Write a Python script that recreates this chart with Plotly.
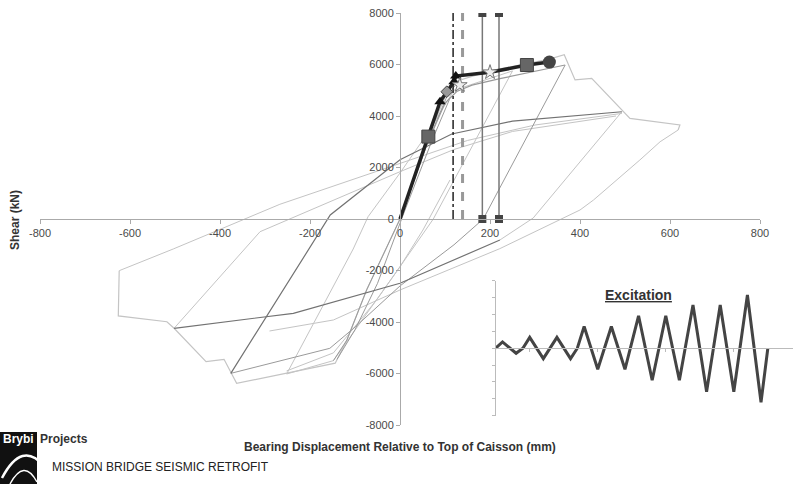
import plotly.graph_objects as go

# ---------------- data ----------------
x_ticks = [-800, -600, -400, -200, 0, 200, 400, 600, 800]
y_ticks = [-8000, -6000, -4000, -2000, 0, 2000, 4000, 6000, 8000]

# envelope (light grey)
env_x = [-624, -626, -518, -502, -431, -391, -363, -144, -118, -74, 0, 63, 104, 125, 200, 290, 330, 365, 389, 426, 496, 511, 622, 618]
env_y = [-2007, -3766, -3990, -4244, -5541, -5448, -6383, -5600, -4700, -2750, 0, 3200, 4900, 5350, 5750, 6050, 6200, 6380, 5400, 5463, 4166, 3910, 3650, 3456]

# 620 mm cycle reload / unload (light grey)
c620r_x = [-624, -504, -267, 0, 150, 300, 493]
c620r_y = [-2007, -1165, 571, 2163, 3050, 3650, 4100]
c620u_x = [618, 578, 533, 430, 400, 222, 0, -148, -290]
c620u_y = [3456, 3000, 2291, 738, 350, -1150, -2757, -3922, -4350]

# 500 mm cycle
c500r_x = [-376, -155, 0, 115, 250, 493]
c500r_y = [-5994, 155, 2300, 3300, 3800, 4166]
c500u_x = [493, 296, 222]
c500u_y = [4166, 39, -815]
c500n_x = [222, 0, -237, -502]
c500n_y = [-815, -2497, -3662, -4244]
c500b_x = [-502, -344, -311, 0, 120, 250, 480]
c500b_y = [-4244, -1126, -493, 1837, 2700, 3400, 4000]

# 375 mm cycle (medium grey)
c375p_x = [0, 60, 100, 126, 160, 222, 367]
c375p_y = [0, 2900, 4500, 4950, 5200, 5450, 5980]
c375u_x = [367, 185, 120, 0, -100, -156, -376]
c375u_y = [5980, 0, -1000, -2600, -4200, -5022, -5994]

# 250 mm cycle (light grey)
c250_x = [-252, -104, -71, 0, 60, 120, 250, 74, 0, -52, -148, -252]
c250_y = [-6019, -1165, 89, 1786, 3300, 5000, 5750, 0, -1852, -3145, -5500, -6019]

# small cycles near origin
small1_x = [-148, -118, -74, 0, 63, 104, 125]
small1_y = [-5500, -4700, -2750, 0, 3050, 4750, 5250]
small2_x = [-140, -100, -50, 10, 70, 110]
small2_y = [-5450, -4300, -2500, 300, 3000, 4650]
small3_x = [111, 51, 0, -52, -148, -252]
small3_y = [1514, -427, -1852, -3145, -5200, -5900]

# backbone (thick black) and its markers
bb_x = [0, 63, 89, 104, 120, 124, 200, 282, 332]
bb_y = [0, 3200, 4555, 4943, 5331, 5553, 5697, 5980, 6096]
sq_x = [63, 282]
sq_y = [3200, 5980]
tri_x = [89, 120, 124]
tri_y = [4555, 5331, 5553]
dia_x = [104]
dia_y = [4943]
star_x = [133, 200]
star_y = [5200, 5697]
circ_x = [332]
circ_y = [6096]

# vertical limit lines
dashdot_x = 118
dash_x = 139
limit_x = [183, 220]
limit_y = [0, 8000]

# excitation inset
exc_t = [0, 1, 3, 4, 5, 7, 9, 11, 12, 13, 15, 17, 19, 21, 23, 25, 27, 29, 31, 33, 35, 37, 39, 40]
exc_v = [0, 0.37, -0.30, 0, 0.64, -0.62, 0.64, -0.62, 0, 1.29, -1.25, 1.29, -1.25,
         1.92, -1.90, 1.92, -1.90, 2.56, -2.58, 2.56, -2.58, 3.15, -3.2, 0]

# ---------------- layout helpers ----------------
W, H = 793, 485
ML, MR, MT, MB = 40, 0, 13, 60
PW = W - ML - MR
PH = H - MT - MB


def px(x):
    return (x - ML) / PW


def py(y):
    return (H - MB - y) / PH


LIGHT = "#c4c4c4"
MED = "#9a9a9a"
DARK = "#727272"

fig = go.Figure()


def add_line(xs, ys, color, width=1.0):
    fig.add_trace(go.Scatter(x=xs, y=ys, mode="lines",
                             line=dict(color=color, width=width),
                             hoverinfo="skip", showlegend=False))


add_line(env_x, env_y, LIGHT, 1.2)
add_line(c620r_x, c620r_y, LIGHT)
add_line(c620u_x, c620u_y, LIGHT)
add_line(c250_x, c250_y, LIGHT)
add_line(c500u_x, c500u_y, LIGHT)
add_line(c500b_x, c500b_y, LIGHT)
add_line(small3_x, small3_y, LIGHT)
add_line(c375p_x, c375p_y, MED, 1.2)
add_line(c375u_x, c375u_y, MED)
add_line(small1_x, small1_y, MED)
add_line(small2_x, small2_y, MED)
add_line(c500r_x, c500r_y, DARK, 1.2)
add_line(c500n_x, c500n_y, DARK, 1.2)

# vertical limit lines
fig.add_trace(go.Scatter(x=[dashdot_x, dashdot_x], y=limit_y, mode="lines",
                         line=dict(color="#222", width=1.5, dash="dashdot"),
                         hoverinfo="skip", showlegend=False))
fig.add_trace(go.Scatter(x=[dash_x, dash_x], y=limit_y, mode="lines",
                         line=dict(color="#999", width=3, dash="dash"),
                         hoverinfo="skip", showlegend=False))
for lx in limit_x:
    fig.add_trace(go.Scatter(x=[lx, lx], y=limit_y, mode="lines+markers",
                             line=dict(color="#777", width=1.5),
                             marker=dict(symbol="square", size=8, color="#444"),
                             hoverinfo="skip", showlegend=False))

# backbone
fig.add_trace(go.Scatter(x=bb_x, y=bb_y, mode="lines",
                         line=dict(color="#222", width=3.5),
                         hoverinfo="skip", showlegend=False))
fig.add_trace(go.Scatter(x=sq_x, y=sq_y, mode="markers",
                         marker=dict(symbol="square", size=13, color="#666",
                                     line=dict(color="#444", width=1)),
                         hoverinfo="skip", showlegend=False))
fig.add_trace(go.Scatter(x=tri_x, y=tri_y, mode="markers",
                         marker=dict(symbol="triangle-up", size=10, color="#111"),
                         hoverinfo="skip", showlegend=False))
fig.add_trace(go.Scatter(x=dia_x, y=dia_y, mode="markers",
                         marker=dict(symbol="diamond", size=9, color="#999",
                                     line=dict(color="#444", width=1)),
                         hoverinfo="skip", showlegend=False))
fig.add_trace(go.Scatter(x=star_x, y=star_y, mode="markers",
                         marker=dict(symbol="star", size=11, color="#eee",
                                     line=dict(color="#777", width=1)),
                         hoverinfo="skip", showlegend=False))
fig.add_trace(go.Scatter(x=circ_x, y=circ_y, mode="markers",
                         marker=dict(symbol="circle", size=13, color="#444"),
                         hoverinfo="skip", showlegend=False))

# inset excitation
fig.add_trace(go.Scatter(x=exc_t, y=exc_v, mode="lines", xaxis="x2", yaxis="y2",
                         line=dict(color="#444", width=3),
                         hoverinfo="skip", showlegend=False))

tickfont = dict(family="Liberation Sans, Arial", size=11, color="#4a4a4a")

fig.update_layout(
    width=W, height=H, autosize=False,
    margin=dict(l=ML, r=MR, t=MT, b=MB, pad=0, autoexpand=False),
    paper_bgcolor="white", plot_bgcolor="white",
    xaxis=dict(range=[-800, 800], domain=[0, 720 / PW], anchor="free", position=0.5,
               tickvals=x_ticks, ticktext=[str(v) for v in x_ticks], automargin=False,
               showline=True, linecolor="#aaa", linewidth=1,
               ticks="outside", ticklen=4, tickcolor="#aaa",
               showgrid=False, zeroline=False, tickfont=tickfont),
    yaxis=dict(range=[-8000, 8000], domain=[0, 1], anchor="free", position=360 / PW,
               tickvals=y_ticks, ticktext=[str(v) for v in y_ticks], automargin=False,
               showline=True, linecolor="#aaa", linewidth=1,
               ticks="outside", ticklen=4, tickcolor="#aaa",
               showgrid=False, zeroline=False, tickfont=tickfont),
    xaxis2=dict(range=[0, 43.7], domain=[px(495.7), 1], anchor="free", position=py(348.2),
                showline=True, linecolor="#bbb", linewidth=1, automargin=False,
                ticks="outside", ticklen=3, tickcolor="#bbb", tick0=5, dtick=10,
                showticklabels=False, showgrid=False, zeroline=False),
    yaxis2=dict(range=[-4, 4], domain=[py(415.7), py(280.7)], anchor="x2",
                showline=True, linecolor="#bbb", linewidth=1, automargin=False,
                ticks="outside", ticklen=3, tickcolor="#bbb", dtick=1,
                showticklabels=False, showgrid=False, zeroline=False),
)

annotations = [
    dict(text="<b>Shear (kN)</b>", x=px(15), y=py(220), xref="paper", yref="paper",
         textangle=-90, showarrow=False, xanchor="center", yanchor="middle",
         font=dict(family="Liberation Sans, Arial", size=12, color="#333")),
    dict(text="<b>Bearing Displacement Relative to Top of Caisson (mm)</b>",
         x=px(400), y=py(447), xref="paper", yref="paper", showarrow=False,
         xanchor="center", yanchor="middle",
         font=dict(family="Liberation Sans, Arial", size=12, color="#333")),
    dict(text="<b><u>Excitation</u></b>", x=px(638), y=py(295), xref="paper", yref="paper",
         showarrow=False, xanchor="center", yanchor="middle",
         font=dict(family="Liberation Sans, Arial", size=14, color="#333")),
    dict(text="MISSION BRIDGE SEISMIC RETROFIT", x=px(50), y=py(467), xref="paper",
         yref="paper", showarrow=False, xanchor="left", yanchor="middle",
         font=dict(family="Liberation Sans, Arial", size=12, color="#222")),
    dict(text="<b>Brybi</b>", x=px(1), y=py(439), xref="paper", yref="paper",
         showarrow=False, xanchor="left", yanchor="middle",
         font=dict(family="Liberation Sans, Arial", size=12, color="white")),
    dict(text="<b>Projects</b>", x=px(38), y=py(439), xref="paper", yref="paper",
         showarrow=False, xanchor="left", yanchor="middle",
         font=dict(family="Liberation Sans, Arial", size=12, color="#333")),
]
fig.update_layout(annotations=annotations)

# logo shapes (decorative, pixel positions converted to paper)
shapes = [
    dict(type="rect", xref="paper", yref="paper", x0=px(0), x1=px(37), y0=py(484), y1=py(432),
         fillcolor="#111", line=dict(width=0), layer="below"),
    dict(type="path", xref="paper", yref="paper",
         path="M %f,%f Q %f,%f %f,%f" % (px(2), py(478), px(22), py(440), px(44), py(466)),
         line=dict(color="white", width=2.5)),
    dict(type="path", xref="paper", yref="paper",
         path="M %f,%f Q %f,%f %f,%f" % (px(10), py(484), px(24), py(458), px(37), py(482)),
         line=dict(color="white", width=1.5)),
]
fig.update_layout(shapes=shapes)

fig.write_html("out.html",
               config={"displayModeBar": False},
               post_script="document.body.style.margin='0';document.body.style.overflow='hidden';")
